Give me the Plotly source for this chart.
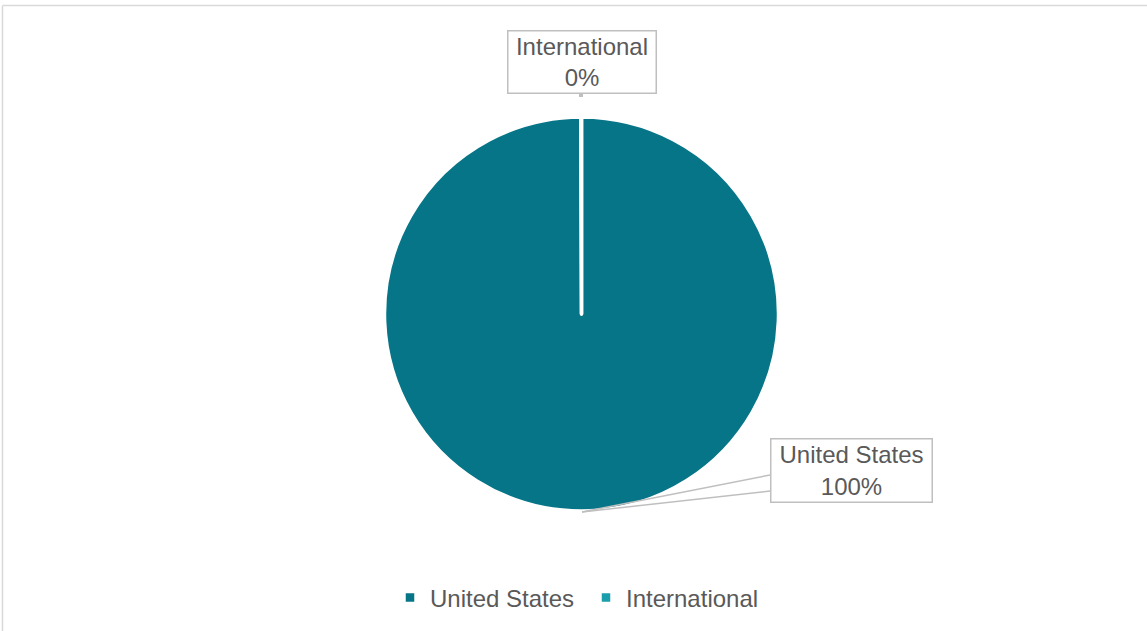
import plotly.graph_objects as go

W, H = 1147, 631
labels = ["United States", "International"]
values = [99.95, 0.05]
colors = ["#067587", "#1a9eab"]

FONT = "Arial, Liberation Sans, sans-serif"
TXT = "#595959"

def px(x):
    return x / W

def py(y):
    return 1 - y / H

total = sum(values)
pct = [v / total * 100 for v in values]

fig = go.Figure()
fig.add_trace(go.Pie(
    labels=labels, values=values, sort=False, direction="clockwise", rotation=0,
    marker=dict(colors=colors, line=dict(color="#ffffff", width=3.5)),
    textinfo="none", hoverinfo="label+percent",
    domain=dict(x=[px(384.5), px(778.5)], y=[py(511), py(117)]),
))

boxes = {
    "United States": dict(cx=851, cy=470, w=160, h=62),
    "International": dict(cx=581.5, cy=62.5, w=147, h=61),
}
annotations = []
for lab, p in zip(labels, pct):
    b = boxes[lab]
    annotations.append(dict(
        text=f"{lab}<br>{p:.0f}%", x=px(b["cx"]), y=py(b["cy"]), xref="paper", yref="paper",
        xanchor="center", yanchor="middle", showarrow=False, align="center",
        width=b["w"], height=b["h"], borderpad=0, bordercolor="#bfbfbf", borderwidth=1.5,
        bgcolor="#ffffff", font=dict(family=FONT, size=24, color=TXT),
    ))

shapes = [
    dict(type="line", xref="paper", yref="paper", x0=px(2.5), y0=py(5.5), x1=px(1150), y1=py(5.5),
         line=dict(color="#d9d9d9", width=1.5)),
    dict(type="line", xref="paper", yref="paper", x0=px(2.5), y0=py(5.5), x1=px(2.5), y1=py(640),
         line=dict(color="#d9d9d9", width=1.5)),
    dict(type="line", xref="paper", yref="paper", x0=px(770), y0=py(475), x1=px(582), y1=py(512),
         line=dict(color="#bfbfbf", width=1.5)),
    dict(type="line", xref="paper", yref="paper", x0=px(770), y0=py(491), x1=px(582), y1=py(512),
         line=dict(color="#bfbfbf", width=1.5)),
    dict(type="line", xref="paper", yref="paper", x0=px(581), y0=py(94), x1=px(581), y1=py(97),
         line=dict(color="#bfbfbf", width=4)),
]

fig.update_layout(
    width=W, height=H, margin=dict(l=0, r=0, t=0, b=0),
    paper_bgcolor="#ffffff", plot_bgcolor="#ffffff",
    font=dict(family=FONT, color=TXT),
    showlegend=True,
    legend=dict(orientation="h", x=px(390), xanchor="left", y=py(598), yanchor="middle",
                font=dict(family=FONT, size=24, color=TXT), itemwidth=30,
                entrywidth=151, entrywidthmode="pixels",
                traceorder="normal", bgcolor="rgba(0,0,0,0)"),
    annotations=annotations, shapes=shapes,
)

fig.write_html("out.html", config={"displayModeBar": False},
               post_script="document.body.style.margin='0';document.body.style.padding='0';")
